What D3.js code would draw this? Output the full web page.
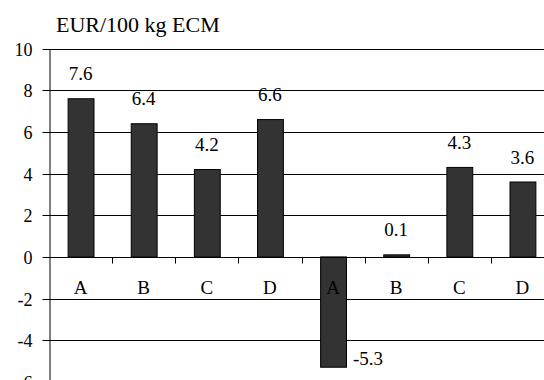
<!DOCTYPE html>
<html><head><meta charset="utf-8">
<script src="https://cdn.jsdelivr.net/npm/d3@7"></script>
<style>body{margin:0;background:#fff;overflow:hidden}svg{display:block}text{font-family:"Liberation Serif","Times New Roman",serif;fill:#000}</style>
</head><body>
<script>
const categories = ["A","B","C","D","A","B","C","D"];
const values = [7.6, 6.4, 4.2, 6.6, -5.3, 0.1, 4.3, 3.6];
const valueLabels = ["7.6","6.4","4.2","6.6","-5.3","0.1","4.3","3.6"];
const yTicks = [10, 8, 6, 4, 2, 0, -2, -4, -6];
const title = "EUR/100 kg ECM";

const W = 544, H = 380;
const svg = d3.select("body").append("svg").attr("width", W).attr("height", H);
const font = '"Liberation Serif","Times New Roman",serif';

const y = d3.scaleLinear().domain([-6, 10]).range([381.8, 48.8]);
const x = d3.scaleBand().domain(d3.range(categories.length)).range([49, 554]).paddingInner(0.59).paddingOuter(0.295);
const xb = d3.scaleBand().domain(d3.range(categories.length)).range([49, 554]);

// gridlines
svg.append("g").selectAll("line").data(yTicks.filter(t => t !== 0)).join("line")
  .attr("x1", 49).attr("x2", W)
  .attr("y1", d => Math.round(y(d)) + 0.5).attr("y2", d => Math.round(y(d)) + 0.5)
  .attr("stroke", "#000").attr("stroke-width", 1);

// y axis
const yAxis = d3.axisLeft(y).tickValues(yTicks).tickSize(7).tickSizeOuter(0).tickFormat(d => String(d));
const gy = svg.append("g").attr("transform", "translate(49.5,0)").call(yAxis);
gy.attr("font-family", null).attr("font-size", null);
gy.select(".domain").attr("stroke", "#000");
gy.selectAll(".tick line").attr("stroke", "#000");
gy.selectAll(".tick").attr("transform", d => `translate(0,${Math.round(y(d)) + 0.5})`);
gy.selectAll("text").style("font-family", font).style("font-size", "18px").attr("fill", "#000").attr("x", -17).attr("dy", "0.34em");

// bars
svg.append("g").selectAll("rect").data(values).join("rect")
  .attr("x", (d, i) => x(i) + 0.5)
  .attr("width", x.bandwidth())
  .attr("y", d => y(Math.max(0, d)))
  .attr("height", d => Math.abs(y(d) - y(0)))
  .attr("fill", "#333").attr("stroke", "#000").attr("stroke-width", 1);

// x axis line at zero
const y0 = Math.round(y(0)) + 0.5;
svg.append("line").attr("x1", 49).attr("x2", W).attr("y1", y0).attr("y2", y0).attr("stroke", "#000");
// category boundary ticks
svg.append("g").selectAll("line").data(d3.range(1, categories.length)).join("line")
  .attr("x1", i => Math.round(xb(i)) + 0.5).attr("x2", i => Math.round(xb(i)) + 0.5)
  .attr("y1", y0).attr("y2", y0 + 6).attr("stroke", "#000");

// category labels
svg.append("g").selectAll("text").data(categories).join("text")
  .attr("x", (d, i) => xb(i) + xb.bandwidth() / 2)
  .attr("y", 294)
  .attr("text-anchor", "middle")
  .style("font-family", font).style("font-size", "19px")
  .text(d => d);

// value labels
svg.append("g").selectAll("text").data(values).join("text")
  .attr("x", (d, i) => d < 0 ? x(i) + x.bandwidth() + 7 : x(i) + x.bandwidth() / 2)
  .attr("y", d => d < 0 ? y(d) - 2 : y(d) - 18.5)
  .attr("text-anchor", d => d < 0 ? "start" : "middle")
  .style("font-family", font).style("font-size", "19px")
  .text((d, i) => valueLabels[i]);

// title
svg.append("text").attr("x", 56).attr("y", 32)
  .style("font-family", font).style("font-size", "22px")
  .text(title);
</script>
</body></html>
